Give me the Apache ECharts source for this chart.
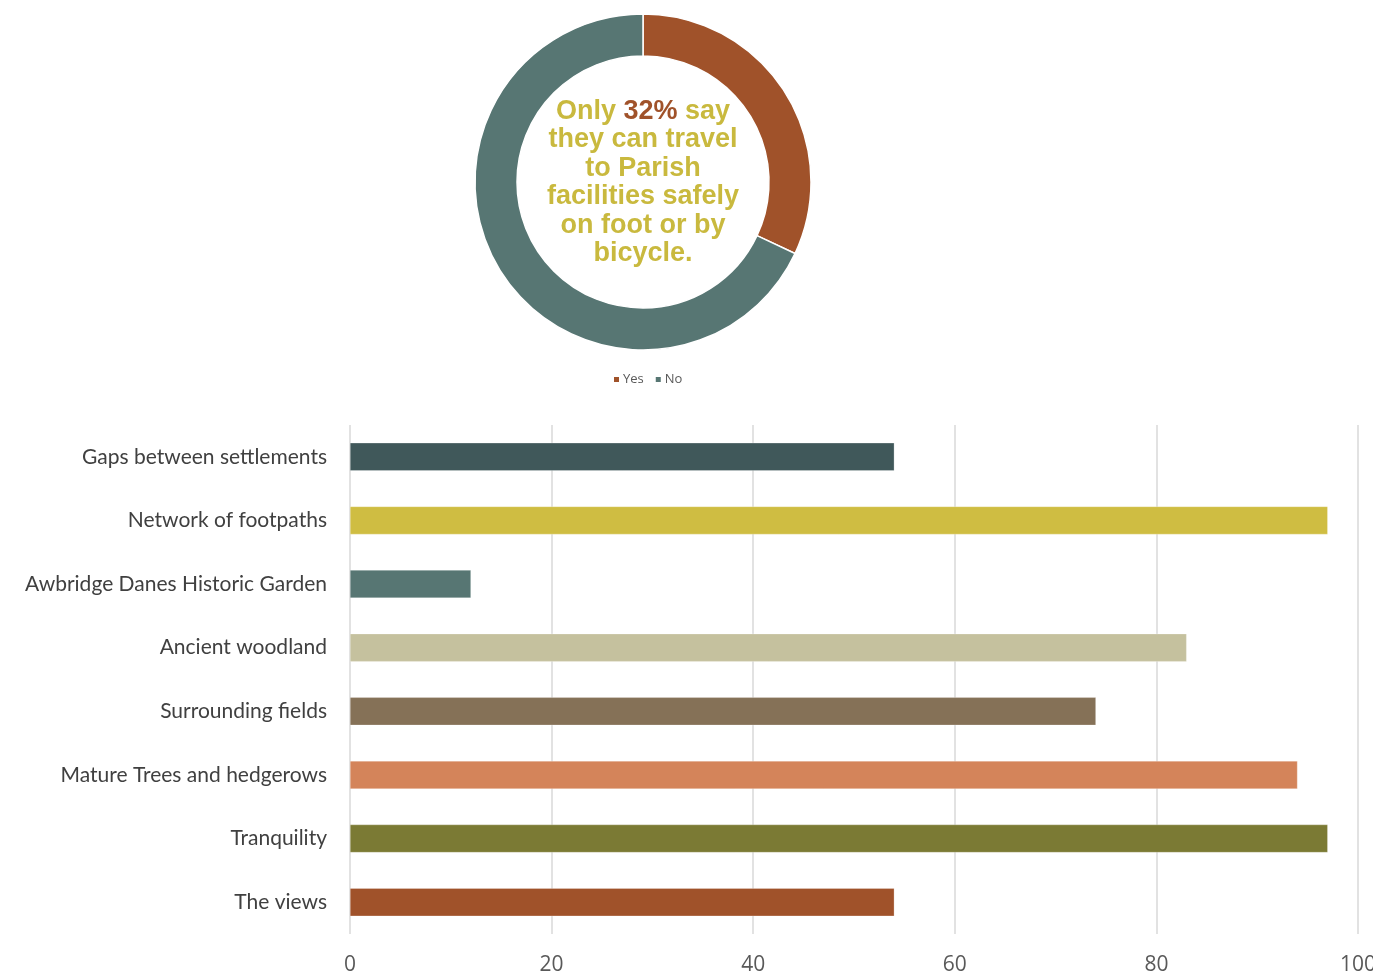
<!DOCTYPE html>
<html>
<head>
<meta charset="utf-8">
<script src="https://cdn.jsdelivr.net/npm/echarts@6/dist/echarts.min.js"></script>
<style>
  html, body { margin: 0; padding: 0; background: #fff; }
  #main { width: 1373px; height: 974px; }
</style>
</head>
<body>
<div id="main"></div>
<script>
// donut data
var pieNames = ["Yes", "No"];
var pieValues = [32, 68];
var pieColors = ["#A0522A", "#577673"];

// bar data (top to bottom as in the picture)
var categories = [
  "Gaps between settlements",
  "Network of footpaths",
  "Awbridge Danes Historic Garden",
  "Ancient woodland",
  "Surrounding fields",
  "Mature Trees and hedgerows",
  "Tranquility",
  "The views"
];
var barValues = [54, 97, 12, 83, 74, 94, 97, 54];
var barColors = ["#40585A", "#CFBD42", "#577673", "#C5C19E", "#857157", "#D4845A", "#7B7A34", "#A0522A"];

var myChart = echarts.init(document.getElementById("main"));

// yAxis category goes bottom->top, so reverse
var catRev = categories.slice().reverse();
var barData = barValues.map(function (v, i) {
  return { value: v, itemStyle: { color: barColors[i] } };
}).reverse();

var option = {
  animation: false,
  textStyle: { fontFamily: "Lato" },
  title: {
    left: 638,
    top: 92,
    textAlign: "center",
    text: "{y|Only }{b|32%}{y| say}\n{y|they can travel}\n{y|to Parish}\n{y|facilities safely}\n{y|on foot or by}\n{y|bicycle.}",
    textStyle: {
      rich: {
        y: { color: "#C9B93E", fontSize: 27, fontWeight: "bold", fontFamily: "Liberation Sans", lineHeight: 28.5 },
        b: { color: "#A0522A", fontSize: 27, fontWeight: "bold", fontFamily: "Liberation Sans", lineHeight: 28.5 }
      }
    }
  },
  legend: {
    data: pieNames,
    left: 607,
    top: 368,
    itemWidth: 7,
    itemHeight: 7,
    itemGap: 10,
    icon: "rect",
    textStyle: { color: "#595959", fontSize: 13, fontFamily: "Open Sans", padding: [0, 0, 0, -2] }
  },
  grid: {
    left: 350,
    right: 15,
    top: 425,
    bottom: 40,
    outerBoundsMode: "none",
    containLabel: false
  },
  xAxis: {
    type: "value",
    min: 0,
    max: 100,
    interval: 20,
    axisLine: { show: false },
    axisTick: { show: false },
    axisLabel: { color: "#595959", fontSize: 21, margin: 21, fontFamily: "Open Sans" },
    splitLine: { lineStyle: { color: "#D9D9D9", width: 1.5 } }
  },
  yAxis: {
    type: "category",
    data: catRev,
    axisLine: { show: false },
    axisTick: { show: false },
    axisLabel: { color: "#404040", fontSize: 21, margin: 23, fontFamily: "Lato" }
  },
  series: [
    {
      name: "Pie",
      type: "pie",
      center: [643, 182],
      radius: [126, 168],
      startAngle: 90,
      clockwise: true,
      label: { show: false },
      labelLine: { show: false },
      itemStyle: { borderColor: "#fff", borderWidth: 1.5 },
      data: pieNames.map(function (n, i) {
        return { name: n, value: pieValues[i], itemStyle: { color: pieColors[i] } };
      })
    },
    {
      name: "Bars",
      type: "bar",
      data: barData,
      barCategoryGap: "56%",
      itemStyle: { borderColor: "rgba(255,255,255,0.5)", borderWidth: 0.5 }
    }
  ]
};

myChart.setOption(option);
</script>
</body>
</html>
